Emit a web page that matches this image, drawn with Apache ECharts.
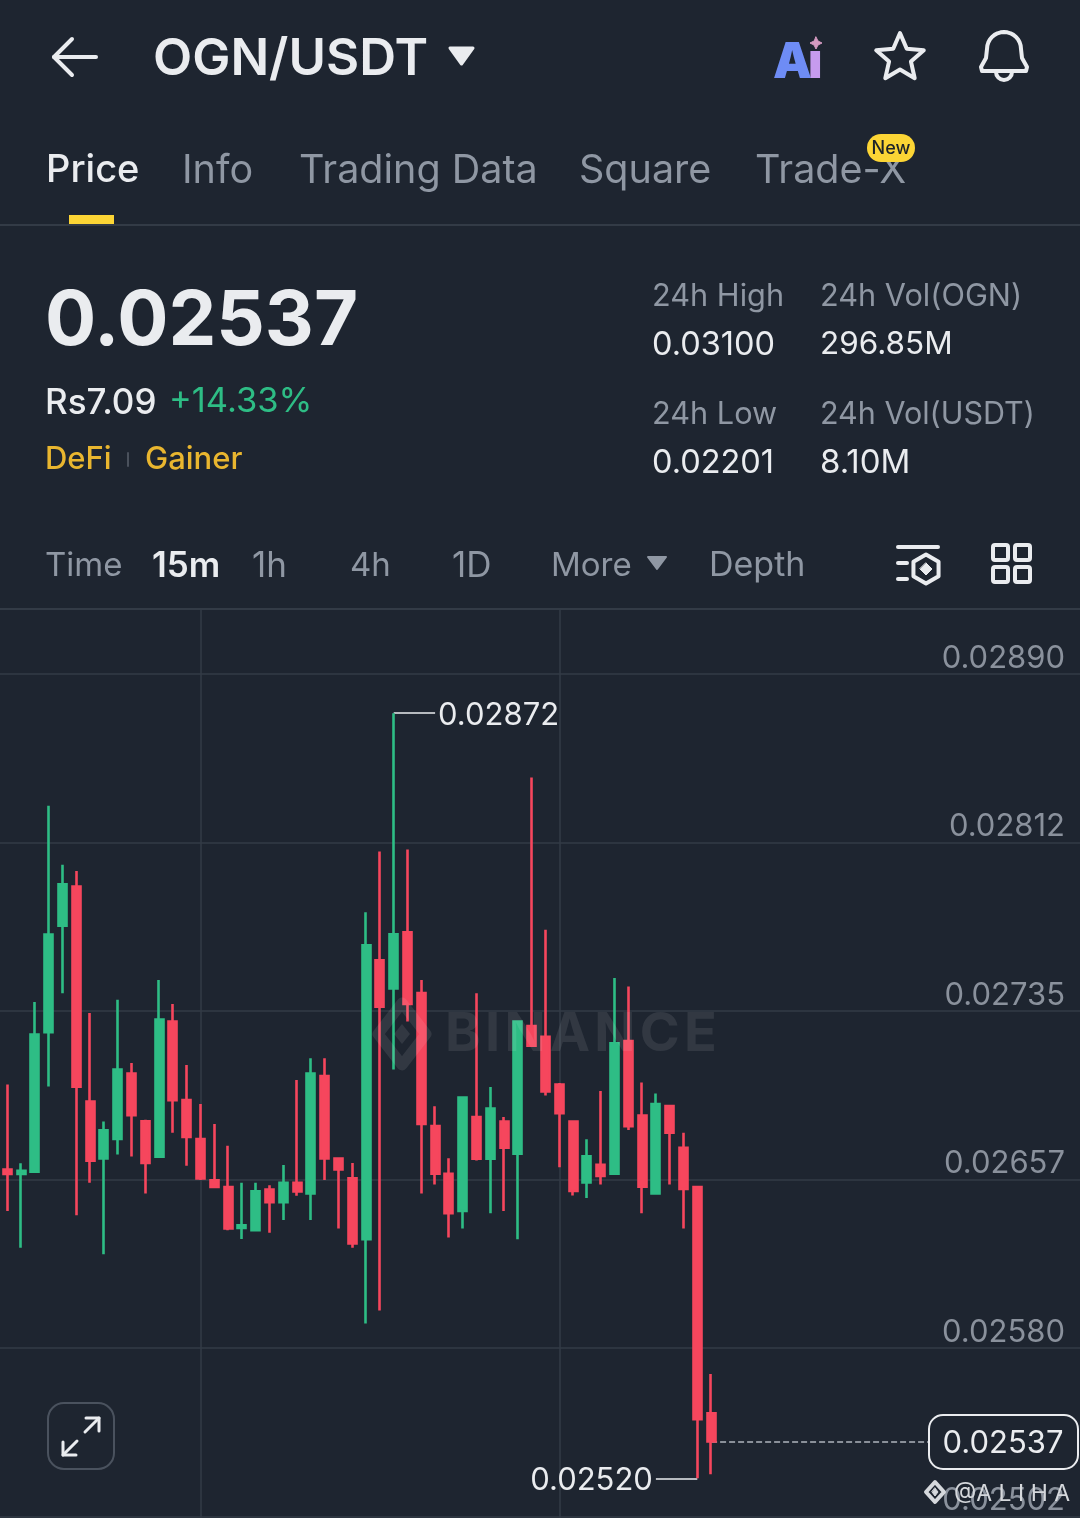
<!DOCTYPE html>
<html><head><meta charset="utf-8">
<style>html,body{margin:0;padding:0;background:#1E2530}#c{width:1080px;height:1518px}</style>
<script src="https://cdn.jsdelivr.net/npm/echarts@6/dist/echarts.min.js"></script>
</head><body><div id="c"></div>
<script>
// [open, close, low, high]
const candles = [
[0.026621,0.026600,0.026430,0.027012],[0.026600,0.026615,0.026261,0.026649],[0.026611,0.027242,0.026611,0.027391],
[0.027252,0.027702,0.027002,0.028294],[0.027742,0.027933,0.027431,0.028023],[0.027922,0.027002,0.026410,0.027994],
[0.026933,0.026661,0.026560,0.027341],[0.026671,0.026801,0.026231,0.026841],[0.026761,0.027081,0.026690,0.027402],
[0.027062,0.026871,0.026680,0.027111],[0.026842,0.026651,0.026510,0.026850],[0.026680,0.027311,0.026680,0.027492],
[0.027301,0.026940,0.026790,0.027382],[0.026940,0.026770,0.026638,0.027101],[0.026761,0.026580,0.026572,0.026922],
[0.026571,0.026540,0.026540,0.026830],[0.026540,0.026349,0.026341,0.026730],[0.026352,0.026364,0.026301,0.026560],
[0.026341,0.026520,0.026341,0.026560],[0.026529,0.026470,0.026330,0.026548],[0.026470,0.026560,0.026388,0.026641],
[0.026560,0.026520,0.026500,0.027032],[0.026510,0.027062,0.026388,0.027132],[0.027051,0.026671,0.026572,0.027132],
[0.026671,0.026621,0.026349,0.026671],[0.026580,0.026281,0.026261,0.026651],[0.026300,0.027652,0.025912,0.027804],
[0.027583,0.027370,0.025972,0.028084],[0.027453,0.027703,0.027081,0.028720],[0.027712,0.027382,0.027301,0.028093],
[0.027432,0.026830,0.026510,0.027492],[0.026820,0.026601,0.026552,0.026912],[0.026601,0.026420,0.026308,0.026672],
[0.026430,0.026952,0.026349,0.026952],[0.026862,0.026670,0.026662,0.027432],[0.026670,0.026901,0.026420,0.027000],
[0.026841,0.026721,0.026430,0.026862],[0.026693,0.027301,0.026300,0.027301],[0.027280,0.027190,0.027190,0.028424],
[0.027231,0.026980,0.026961,0.027723],[0.027012,0.026880,0.026631,0.027019],[0.026841,0.026522,0.026501,0.026841],
[0.026561,0.026681,0.026490,0.026760],[0.026642,0.026591,0.026552,0.026982],[0.026601,0.027201,0.026601,0.027502],
[0.027211,0.026820,0.026802,0.027462],[0.026869,0.026542,0.026420,0.027021],[0.026510,0.026922,0.026510,0.026970],
[0.026912,0.026790,0.026552,0.026912],[0.026721,0.026531,0.026349,0.026790],[0.026540,0.025472,0.025200,0.026540],
[0.025499,0.025370,0.025219,0.025680]
];
const tickValues = [0.0289,0.028125,0.02735,0.026575,0.0258,0.025025];
const tickLabels = ['0.02890','0.02812','0.02735','0.02657','0.02580','0.02502'];
const highPrice = 0.02872, lowPrice = 0.0252, lastPrice = 0.02537;
const highIndex = 29, lowIndex = 51, lastIndex = 52;
const tabs = ['Price','Info','Trading Data','Square','Trade-X'];
const intervals = ['Time','15m','1h','4h','1D','More','Depth'];

const FONT = 'Inter';
const BG = '#1E2530', GREY = '#8F97A3', WHITE = '#EAECEF', GOLD = '#E9B62F', GREEN = '#2EBD85', RED = '#F6465D', LINE = '#333B46';
const T = (x,y,text,size,fill,weight=400,align='left',z=20) => ({type:'text',x,y,z,silent:true,style:{text,fill,font:`${weight} ${size}px ${FONT}`,textAlign:align,textVerticalAlign:'middle'}});
const L = (x1,y1,x2,y2,stroke,lw=2) => ({type:'line',z:20,silent:true,shape:{x1,y1,x2,y2},style:{stroke,lineWidth:lw,lineCap:'round'}});
const R = (x,y,w,h,r,fill,stroke,lw,z=20) => ({type:'rect',z,silent:true,shape:{x,y,width:w,height:h,r},style:{fill,stroke,lineWidth:lw}});
const Poly = (points,stroke,lw,fill,closed=true) => ({type:closed?'polygon':'polyline',z:20,silent:true,shape:{points},style:{stroke,lineWidth:lw,fill:fill||null,lineJoin:'round',lineCap:'round'}});

const tabX = [46,182,299,579,755];
const tabSize = [38,39.5,39.5,39.5,39.5];
const ivX = [45,152,252,350,452,551,709];
const ivSize = [33,35,35,33,35,33,34];

const star = [];
for(let k=0;k<10;k++){const r=k%2?11.5:25,a=-Math.PI/2+k*Math.PI/5;star.push([900+r*Math.cos(a),58+r*Math.sin(a)]);}
const hex = [];
for(let k=0;k<6;k++){const a=-Math.PI/2+k*Math.PI/3;hex.push([926+14.5*Math.cos(a),569+14.5*Math.sin(a)]);}
const bell = [];
for(let k=0;k<=16;k++){const a=Math.PI+k*Math.PI/16;bell.push([1004+17*Math.cos(a),49+17*Math.sin(a)]);}
bell.push([1022,58],[1027,67],[1026,71],[982,71],[981,67],[986,58]);

const graphic = [
  // header
  L(54,57,96,57,WHITE,4), Poly([[72,39],[54,57],[72,75]],WHITE,4,null,false),
  T(153,60,'OGN/USDT',51,WHITE,600),
  Poly([[450,48],[473,48],[461.5,64]],WHITE,3,WHITE),
  {type:'text',x:773,y:63,z:20,silent:true,style:{text:'A',font:`900 49px ${FONT}`,textVerticalAlign:'middle',fill:'#6E8CF5'}},
  {type:'text',x:808,y:63,z:20,silent:true,style:{text:'ı',font:`900 49px ${FONT}`,textVerticalAlign:'middle',fill:'#C69BEE'}},
  Poly([[816,37],[818,41],[822,43],[818,45],[816,49],[814,45],[810,43],[814,41]],'#D49AC0',1,'#D49AC0'),
  Poly(star,WHITE,4,null),
  Poly(bell,WHITE,4,null),
  {type:'arc',z:20,silent:true,shape:{cx:1004,cy:72,r:8,startAngle:0,endAngle:Math.PI},style:{stroke:WHITE,lineWidth:4,fill:null}},
  // tabs
  ...tabs.map((t,i)=>T(tabX[i],171,t,tabSize[i],i===0?WHITE:GREY,i===0?500:400)),
  R(867,134,48,28,14,'#FCD535'),
  T(891,149,'New',18,'#1E2329',500,'center'),
  R(69,215,45,9,0,'#FCD535'),
  L(0,225,1080,225,LINE,2),
  // price block
  T(45,322,'0.02537',76,WHITE,700),
  T(45,403,'Rs7.09',35,WHITE,500),
  T(169,402,'+14.33%',34.5,GREEN,400),
  T(45,460,'DeFi',31,GOLD,500),
  L(128,453,128,466,'#4a515c',2),
  T(145,460,'Gainer',31,GOLD,500),
  T(652,297,'24h High',30.7,GREY), T(820,297,'24h Vol(OGN)',30.7,GREY),
  T(652,345,'0.03100',32.5,WHITE), T(820,345,'296.85M',31.5,WHITE),
  T(652,415,'24h Low',30.7,GREY), T(820,415,'24h Vol(USDT)',30.5,GREY),
  T(652,463,'0.02201',32.5,WHITE), T(820,463,'8.10M',33,WHITE),
  // interval row
  ...intervals.map((t,i)=>T(ivX[i],566,t,ivSize[i],i===1?WHITE:GREY,i===1?600:400)),
  Poly([[648,557],[666,557],[657,569]],GREY,2,GREY),
  L(898,547,938,547,WHITE,4), L(898,563,907,563,WHITE,4), L(898,579,907,579,WHITE,4),
  Poly(hex,WHITE,4,null),
  Poly([[926,563],[932,569],[926,575],[920,569]],WHITE,1,WHITE),
  R(993,545,15,15,2,null,WHITE,4), R(1015,545,15,15,2,null,WHITE,4),
  R(993,567,15,15,2,null,WHITE,4), R(1015,567,15,15,2,null,WHITE,4),
  L(0,609,1080,609,LINE,2),
  // expand button
  R(48,1403,66,66,16,BG,'#4A525E',2),
  L(63,1455,77,1441,WHITE,3), Poly([[63,1442],[63,1455],[76,1455]],WHITE,3,null,false),
  L(99,1418,85,1432,WHITE,3), Poly([[86,1418],[99,1418],[99,1431]],WHITE,3,null,false),
  // watermark
  Poly([[402,1003],[426,1034],[402,1065],[378,1034]],'rgba(255,255,255,0.09)',11,null),
  Poly([[402,1024],[410,1034],[402,1044],[394,1034]],null,0,'rgba(255,255,255,0.09)'),
  T(445,1035,'B\u200AI\u200AN\u200AA\u200AN\u200AC\u200AE',54,'rgba(255,255,255,0.09)',700),
  // last price box
  R(929,1415,149,54,14,BG,'#EAECEF',2),
  T(1003,1444,'0.02537',31,WHITE,400,'center'),
  // author watermark
  Poly([[935,1482],[944,1492],[935,1502],[926,1492]],'#D5D8DC',4,null),
  Poly([[935,1488],[938,1492],[935,1496],[932,1492]],'#D5D8DC',1,'#D5D8DC'),
  T(954,1494,'@A L I H A',23,'#D5D8DC',400)
];

const total = 80;
const categories = Array.from({length:total},(_,i)=>'c'+i);
const seriesData = ['-'].concat(candles);

const chart = echarts.init(document.getElementById('c'),null,{width:1080,height:1518});
chart.setOption({
  animation:false,
  backgroundColor:BG,
  graphic:{elements:graphic},
  grid:{left:-6.5,top:609,width:13.8*(total-1),height:909,containLabel:false,outerBoundsMode:'none'},
  xAxis:{type:'category',boundaryGap:false,data:categories,
    axisLine:{show:false},axisTick:{show:false},axisLabel:{show:false},
    splitLine:{show:true,interval:(i)=>i===15||i===41,lineStyle:{color:LINE,width:1.5}}},
  yAxis:{type:'value',position:'right',min:0.0250176,max:0.029199,scale:true,
    axisLine:{show:false},
    axisTick:{show:false,customValues:tickValues},
    splitLine:{show:true,lineStyle:{color:LINE,width:1.5}},
    axisLabel:{inside:true,margin:18.7,customValues:tickValues,color:'#8A919C',fontSize:31,fontFamily:FONT,verticalAlign:'bottom',
      showMinLabel:true,showMaxLabel:true,hideOverlap:false,
      formatter:(v)=>{let b=0,d=1;tickValues.forEach((t,i)=>{const e=Math.abs(t-v);if(e<d){d=e;b=i;}});return tickLabels[b];}}},
  series:[{type:'candlestick',data:seriesData,barWidth:8.6,clip:false,z:5,
    itemStyle:{color:GREEN,color0:RED,borderColor:GREEN,borderColor0:RED,borderWidth:2.6},
    markLine:{silent:true,symbol:'none',animation:false,precision:6,
      label:{show:true,position:'end',color:WHITE,fontFamily:FONT,fontSize:31,distance:3,offset:[0,2.5]},
      lineStyle:{color:WHITE,width:1.5,type:'solid'},
      data:[
        [{coord:[highIndex,highPrice],label:{formatter:highPrice.toFixed(5)}},{coord:[highIndex+3,highPrice]}],
        [{coord:[lowIndex,lowPrice],label:{formatter:lowPrice.toFixed(5)}},{coord:[lowIndex-3,lowPrice]}],
        [{coord:[lastIndex,lastPrice],label:{show:false},lineStyle:{type:'dashed',width:1.5,color:'#AEB4BC'}},{coord:[lastIndex+16,lastPrice]}]
      ]}
  }]
});
</script></body></html>
